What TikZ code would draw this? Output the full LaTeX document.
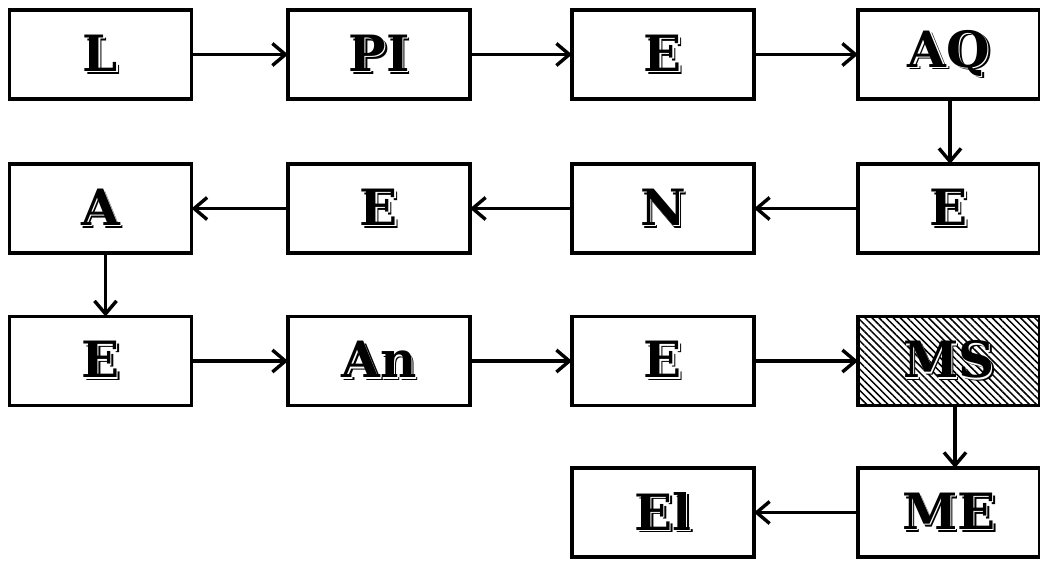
\documentclass[tikz,border=0pt]{standalone}
\usepackage{fontspec}
\setmainfont{DejaVu Serif}
\usetikzlibrary{patterns.meta,arrows.meta}
\newcommand\shadowtext[1]{\rlap{\kern2.6pt\raisebox{-2.6pt}{#1}}\rlap{\kern1.3pt\raisebox{-1.3pt}{\color{white}#1}}#1}
\tikzset{
  blk/.style={draw, line width=3.6pt, minimum width=182pt, minimum height=89pt,
    inner sep=0pt, outer sep=0pt, fill=white,
    font=\fontsize{50}{50}\selectfont\bfseries},
  hatched/.style={pattern={Lines[angle=-45,distance=5pt,line width=1.5pt]}},
  arr/.style={line width=3.4pt, -{Straight Barb[length=13pt,width=22pt,line width=3.4pt]}},
}
\begin{document}
\begin{tikzpicture}[x=1pt,y=-1pt]
\useasboundingbox (0,0) rectangle (1040,563);
% row 1
\node[blk] (l)  at (100.5,54.5) {\shadowtext{L}};
\node[blk] (pi) at (379,54.5)   {\shadowtext{PI}};
\node[blk] (e1) at (663,54.5)   {\shadowtext{E}};
\node[blk] (aq) at (949,54.5)   {\shadowtext{AQ}};
% row 2
\node[blk] (e2) at (949,208.5)  {\shadowtext{E}};
\node[blk] (n)  at (663,208.5)  {\shadowtext{N}};
\node[blk] (e3) at (379,208.5)  {\shadowtext{E}};
\node[blk] (a)  at (100.5,208.5){\shadowtext{A}};
% row 3
\node[blk] (e4) at (100.5,361)  {\shadowtext{E}};
\node[blk] (an) at (379,361)    {\shadowtext{An}};
\node[blk] (e5) at (663,361)    {\shadowtext{E}};
\node[blk,hatched] (ms) at (949,361) {\shadowtext{MS}};
% row 4
\node[blk] (me) at (949,512.5)  {\shadowtext{ME}};
\node[blk] (el) at (663,512.5)  {\shadowtext{El}};
% arrows
\draw[arr] (l) -- (pi);
\draw[arr] (pi) -- (e1);
\draw[arr] (e1) -- (aq);
\draw[arr] ([xshift=1pt]aq.south) -- ([xshift=1pt]e2.north);
\draw[arr] (e2) -- (n);
\draw[arr] (n) -- (e3);
\draw[arr] (e3) -- (a);
\draw[arr] ([xshift=5pt]a.south) -- ([xshift=5pt]e4.north);
\draw[arr] (e4) -- (an);
\draw[arr] (an) -- (e5);
\draw[arr] (e5) -- (ms);
\draw[arr] ([xshift=6pt]ms.south) -- ([xshift=6pt]me.north);
\draw[arr] (me) -- (el);
\end{tikzpicture}
\end{document}
